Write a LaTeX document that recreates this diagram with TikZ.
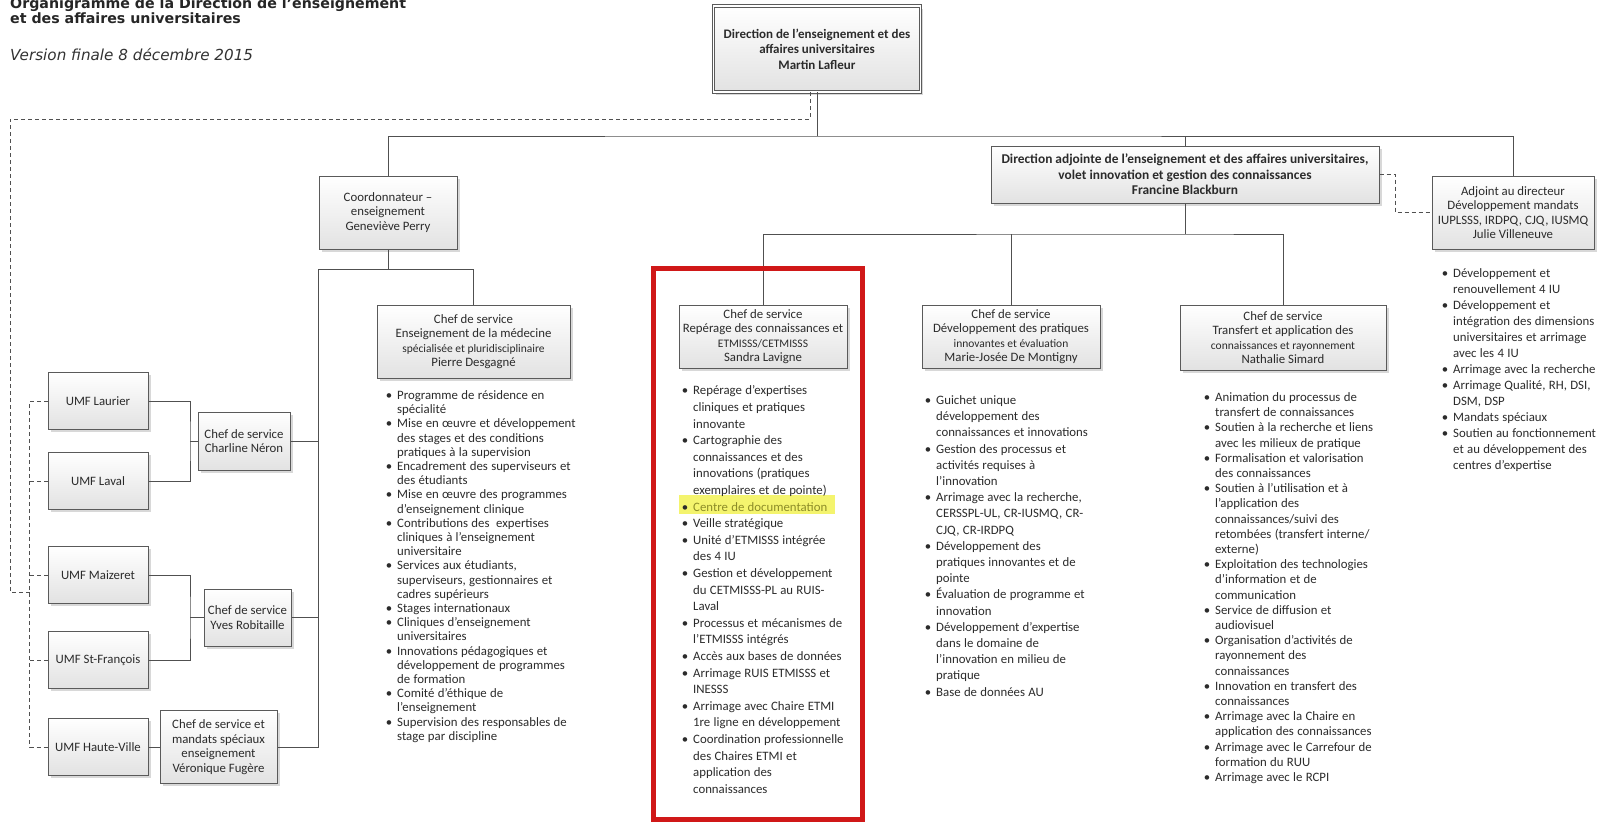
\documentclass[tikz,border=0pt]{standalone}
\usepackage{fontspec}
\setmainfont{Carlito}
\newfontfamily\titlefont{DejaVu Sans}
\usepackage{xcolor}
\usepackage{enumitem}
\usetikzlibrary{shadows,calc}

\definecolor{linegray}{HTML}{505050}
\definecolor{boxborder}{HTML}{5A5A5A}
\definecolor{boxshade}{HTML}{E2E2E2}
\definecolor{txtgray}{HTML}{2B2B2B}
\definecolor{framered}{HTML}{D01818}
\definecolor{hilite}{HTML}{F4F46E}
\definecolor{hitext}{HTML}{8C8C28}

% bullet list used under each box
\newenvironment{blist}[1]{\fontsize{12.8}{#1}\selectfont
  \begin{itemize}[leftmargin=13pt,labelsep=5pt,itemsep=0pt,topsep=0pt,parsep=0pt,partopsep=0pt,label=\textbullet]}
  {\end{itemize}}

\tikzset{
	box/.style={
			draw=boxborder, line width=1pt, top color=white, bottom color=boxshade,
			align=center, inner sep=2pt, text=txtgray,
			font=\fontsize{12.8}{14.5}\selectfont,
			drop shadow={shadow xshift=2.5pt, shadow yshift=-2.5pt, opacity=0.3, fill=gray}
		},
	topbox/.style={box, double=white, double distance=1.6pt, line width=0.9pt,
			font=\bfseries\fontsize{13}{15.5}\selectfont},
	umfbox/.style={box, minimum width=100, minimum height=57},
	conn/.style={draw=linegray, line width=1pt},
	dconn/.style={conn, dash pattern=on 4pt off 3pt},
	itemlist/.style={anchor=north west, inner sep=0pt, text width=#1, align=left, text=txtgray},
	redframe/.style={draw=framered, line width=5pt}
}

\begin{document}
\begin{tikzpicture}[x=1pt,y=-1pt]
	\fill[white] (0,0) rectangle (1606,827);
	\useasboundingbox (0,0) rectangle (1606,827);

	% Title
	\node[anchor=north west, align=left, inner sep=0pt, text=black!85,
		font=\titlefont\bfseries\fontsize{14.2}{13}\selectfont] (title) at (10,-2)
	{Organigramme de la Direction de l’enseignement\\et des affaires universitaires};
	\node[anchor=west, inner sep=0pt, text=black!80,
		font=\titlefont\itshape\fontsize{15.2}{17}\selectfont] (version) at (10,55)
	{Version finale 8 décembre 2015};

	% Direction and the level below it
	\node[topbox, minimum width=207, minimum height=86] (top) at (817,49)
	{Direction de l’enseignement et des\\affaires universitaires\\Martin Lafleur};
	\node[box, minimum width=138, minimum height=73] (coord) at (388,212.5)
	{Coordonnateur –\\enseignement\\Geneviève Perry};
	\node[box, font=\bfseries\fontsize{13.4}{15.5}\selectfont, minimum width=388, minimum height=57] (da) at (1185,174.5)
	{Direction adjointe de l’enseignement et des affaires universitaires,\\volet innovation et gestion des connaissances\\Francine Blackburn};
	\node[box, minimum width=162, minimum height=73] (adj) at (1513,212.5)
	{Adjoint au directeur\\Développement mandats\\IUPLSSS, IRDPQ, CJQ, IUSMQ\\Julie Villeneuve};

	% Chefs de service
	\node[box, minimum width=193, minimum height=73] (pierre) at (473.5,341.5)
	{Chef de service\\Enseignement de la médecine\\{\fontsize{11.5}{14.5}\selectfont spécialisée et pluridisciplinaire}\\Pierre Desgagné};
	\node[box, minimum width=168, minimum height=63] (sandra) at (763,336.5)
	{Chef de service\\Repérage des connaissances et\\{\fontsize{11.5}{14.5}\selectfont ETMISSS/CETMISSS}\\Sandra Lavigne};
	\node[box, minimum width=178, minimum height=63] (mj) at (1011,336.5)
	{Chef de service\\Développement des pratiques\\{\fontsize{11.5}{14.5}\selectfont innovantes et évaluation}\\Marie-Josée De Montigny};
	\node[box, minimum width=206, minimum height=65] (nathalie) at (1283,337.5)
	{Chef de service\\Transfert et application des\\{\fontsize{11.5}{14.5}\selectfont connaissances et rayonnement}\\Nathalie Simard};

	% UMF and their chefs
	\foreach \n/\t/\y in {umfA/UMF Laurier/401, umfB/UMF Laval/481, umfC/UMF Maizeret/575,
			umfD/UMF St-François/660, umfE/UMF Haute-Ville/747} {
			\node[umfbox] (\n) at (98,\y) {\t};
		}
	\node[box, minimum width=92, minimum height=58] (charline) at (244,441)
	{Chef de service\\Charline Néron};
	\node[box, minimum width=87, minimum height=57] (robitaille) at (247.5,617.5)
	{Chef de service\\Yves Robitaille};
	\node[box, minimum width=117, minimum height=73] (veronique) at (218.5,747)
	{Chef de service et\\mandats spéciaux\\enseignement\\Véronique Fugère};

	% Solid connectors
	\coordinate (busA) at (817,136);
	\coordinate (busB) at (1185,234);
	\coordinate (busC) at (388,269);
	\coordinate (spine) at (318,269);
	\draw[conn] (top.south) -- (busA);
	\draw[conn] (coord.north) |- (busA) -| (adj.north);
	\draw[conn] (da.north) -- (da.north |- busA);
	\draw[conn] (da.south) -- (busB);
	\draw[conn] (sandra.north) |- (busB) -| (nathalie.north);
	\draw[conn] (mj.north) -- (mj.north |- busB);
	\draw[conn] (coord.south) -- (busC);
	\draw[conn] (pierre.north) |- (spine) |- (veronique.east);
	\draw[conn] (charline.east) -- (charline.east -| spine);
	\draw[conn] (robitaille.east) -- (robitaille.east -| spine);
	\coordinate (bkA) at (190,441);
	\coordinate (bkB) at (190,617.5);
	\draw[conn] (umfA.east) -| (bkA) |- (umfB.east);
	\draw[conn] (bkA) -- (charline.west);
	\draw[conn] (umfC.east) -| (bkB) |- (umfD.east);
	\draw[conn] (bkB) -- (robitaille.west);
	\draw[conn] (umfE.east) -- (veronique.west);

	% Dashed connectors
	\coordinate (dcorner) at (10,119);
	\coordinate (djoin) at (30,592);
	\draw[dconn] ([xshift=-7pt]top.south) |- (dcorner) |- (djoin);
	\draw[dconn] (umfA.west) -- ++(-18,0) |- (umfE.west);
	\foreach \n in {umfB,umfC,umfD} {
			\draw[dconn] (\n.west) -- ++(-18,0);
		}
	\draw[dconn] (da.east) -- ++(16,0) |- (adj.west);

	% Red frame and highlight
	\draw[redframe] (653,268) rectangle (862,819);
	\fill[hilite] (679,495) rectangle (835,514);

	% Lists
	\node[itemlist=215] (pierreList) at (384,385) {\begin{blist}{14.2}
			\item Programme de résidence en\\spécialité
			\item Mise en œuvre et développement\\des stages et des conditions\\pratiques à la supervision
			\item Encadrement des superviseurs et\\des étudiants
			\item Mise en œuvre des programmes\\d’enseignement clinique
			\item Contributions des~ expertises\\cliniques à l’enseignement\\universitaire
			\item Services aux étudiants,\\superviseurs, gestionnaires et\\cadres supérieurs
			\item Stages internationaux
			\item Cliniques d’enseignement\\universitaires
			\item Innovations pédagogiques et\\développement de programmes\\de formation
			\item Comité d’éthique de\\l’enseignement
			\item Supervision des responsables de\\stage par discipline
		\end{blist}};
	\node[itemlist=180] (sandraList) at (680,378) {\begin{blist}{16.6}
			\item Repérage d’expertises\\cliniques et pratiques\\innovante
			\item Cartographie des\\connaissances et des\\innovations (pratiques\\exemplaires et de pointe)
			\item {\color{hitext}Centre de documentation}
			\item Veille stratégique
			\item Unité d’ETMISSS intégrée\\des 4 IU
			\item Gestion et développement\\du CETMISSS-PL au RUIS-\\Laval
			\item Processus et mécanismes de\\l’ETMISSS intégrés
			\item Accès aux bases de données
			\item Arrimage RUIS ETMISSS et\\INESSS
			\item Arrimage avec Chaire ETMI\\1re ligne en développement
			\item Coordination professionnelle\\des Chaires ETMI et\\application des\\connaissances
		\end{blist}};
	\node[itemlist=190] (mjList) at (923,388) {\begin{blist}{16.2}
			\item Guichet unique\\développement des\\connaissances et innovations
			\item Gestion des processus et\\activités requises à\\l’innovation
			\item Arrimage avec la recherche,\\CERSSPL-UL, CR-IUSMQ, CR-\\CJQ, CR-IRDPQ
			\item Développement des\\pratiques innovantes et de\\pointe
			\item Évaluation de programme et\\innovation
			\item Développement d’expertise\\dans le domaine de\\l’innovation en milieu de\\pratique
			\item Base de données AU
		\end{blist}};
	\node[itemlist=200] (nathalieList) at (1202,386) {\begin{blist}{15.2}
			\item Animation du processus de\\transfert de connaissances
			\item Soutien à la recherche et liens\\avec les milieux de pratique
			\item Formalisation et valorisation\\des connaissances
			\item Soutien à l’utilisation et à\\l’application des\\connaissances/suivi des\\retombées (transfert interne/\\externe)
			\item Exploitation des technologies\\d’information et de\\communication
			\item Service de diffusion et\\audiovisuel
			\item Organisation d’activités de\\rayonnement des\\connaissances
			\item Innovation en transfert des\\connaissances
			\item Arrimage avec la Chaire en\\application des connaissances
			\item Arrimage avec le Carrefour de\\formation du RUU
			\item Arrimage avec le RCPI
		\end{blist}};
	\node[itemlist=165] (adjList) at (1440,261) {\begin{blist}{16}
			\item Développement et\\renouvellement 4 IU
			\item Développement et\\intégration des dimensions\\universitaires et arrimage\\avec les 4 IU
			\item Arrimage avec la recherche
			\item Arrimage Qualité, RH, DSI,\\DSM, DSP
			\item Mandats spéciaux
			\item Soutien au fonctionnement\\et au développement des\\centres d’expertise
		\end{blist}};
\end{tikzpicture}
\end{document}
